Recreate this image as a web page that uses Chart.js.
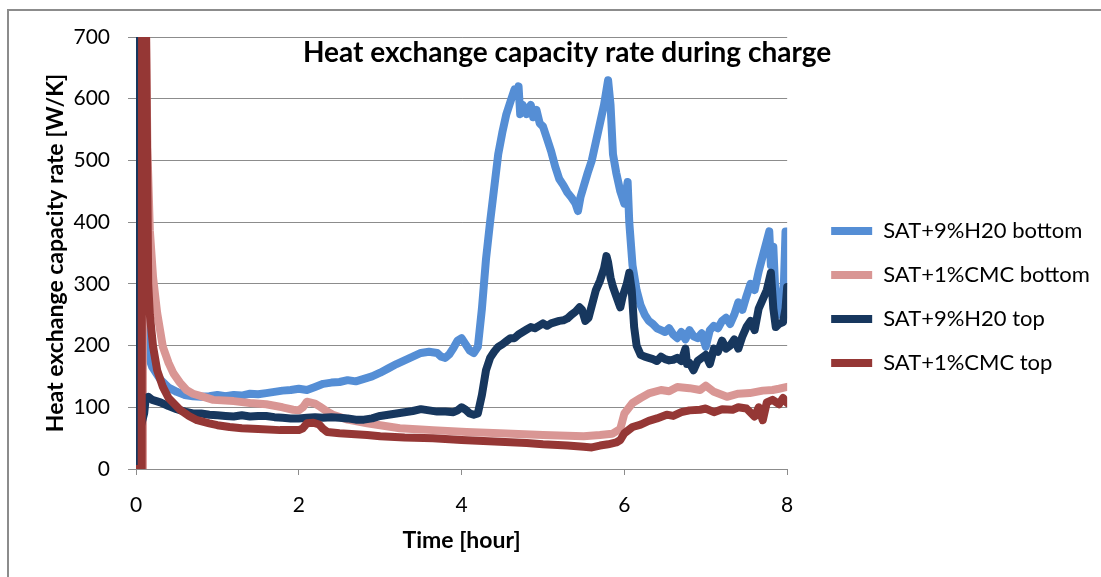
<!DOCTYPE html>
<html>
<head>
<meta charset="utf-8">
<script src="https://cdn.jsdelivr.net/npm/chart.js@4.4.1/dist/chart.umd.min.js"></script>
<style>
  html, body { margin: 0; padding: 0; background: #fff; overflow: hidden; }
  #wrap { position: relative; width: 1101px; height: 577px; }
  #frame { position: absolute; left: 7px; top: 9px; width: 1200px; height: 700px; border: 2px solid #8c8c8c; }
  canvas { position: absolute; left: 0; top: 0; }
</style>
</head>
<body>
<div id="wrap">
  <div id="frame"></div>
  <canvas id="chart" width="1101" height="577"></canvas>
</div>
<script>
const chartTitle = "Heat exchange capacity rate during charge";
const xTitle = "Time [hour]";
const yTitle = "Heat exchange capacity rate [W/K]";
const seriesNames = ["SAT+9%H20 bottom", "SAT+1%CMC bottom", "SAT+9%H20 top", "SAT+1%CMC top"];

// SAT+9%H20 bottom
const h2oBottomT = [0.06, 0.1, 0.13, 0.16, 0.2, 0.25, 0.3, 0.4, 0.5, 0.6, 0.7, 0.8, 0.9, 1.0, 1.1, 1.2, 1.3, 1.4, 1.5, 1.6, 1.7, 1.8, 1.9, 2.0, 2.1, 2.2, 2.3, 2.4, 2.5, 2.6, 2.7, 2.8, 2.9, 3.0, 3.1, 3.2, 3.3, 3.4, 3.5, 3.6, 3.7, 3.75, 3.8, 3.85, 3.9, 3.95, 4.0, 4.05, 4.1, 4.15, 4.2, 4.25, 4.3, 4.35, 4.4, 4.45, 4.5, 4.55, 4.6, 4.65, 4.68, 4.7, 4.72, 4.75, 4.8, 4.85, 4.88, 4.92, 4.96, 5.0, 5.05, 5.1, 5.15, 5.2, 5.25, 5.3, 5.35, 5.4, 5.43, 5.46, 5.5, 5.55, 5.6, 5.65, 5.7, 5.75, 5.8, 5.83, 5.86, 5.9, 5.95, 6.0, 6.04, 6.06, 6.1, 6.15, 6.2, 6.25, 6.3, 6.35, 6.4, 6.45, 6.5, 6.55, 6.6, 6.65, 6.7, 6.75, 6.8, 6.85, 6.9, 6.95, 7.0, 7.05, 7.1, 7.15, 7.2, 7.25, 7.3, 7.35, 7.4, 7.45, 7.5, 7.55, 7.6, 7.65, 7.7, 7.75, 7.78, 7.8, 7.83, 7.85, 7.88, 7.9, 7.93, 7.96, 7.98, 8.0];
const h2oBottomV = [260, 250, 220, 180, 165, 155, 145, 132, 125, 120, 118, 117, 118, 120, 118, 120, 119, 122, 121, 123, 125, 127, 128, 130, 128, 133, 138, 140, 141, 144, 142, 146, 150, 156, 163, 170, 176, 182, 188, 190, 188, 182, 180, 186, 196, 208, 212, 202, 192, 188, 198, 260, 340, 400, 455, 510, 545, 575, 595, 615, 605, 620, 575, 590, 575, 590, 570, 582, 560, 555, 535, 515, 490, 470, 460, 448, 440, 430, 418, 440, 458, 480, 500, 530, 560, 590, 630, 590, 510, 480, 450, 430, 465, 400, 330, 290, 265, 250, 240, 235, 228, 225, 222, 228, 218, 212, 222, 210, 225, 215, 212, 220, 198, 225, 232, 228, 240, 245, 235, 250, 270, 258, 280, 300, 290, 320, 345, 370, 385, 330, 360, 300, 260, 250, 255, 300, 385, 385];

// SAT+1%CMC bottom
const cmcBottomT = [0.08, 0.085, 0.12, 0.14, 0.17, 0.21, 0.26, 0.33, 0.4, 0.46, 0.54, 0.62, 0.7, 0.8, 0.95, 1.2, 1.4, 1.6, 1.8, 1.93, 2.0, 2.05, 2.1, 2.2, 2.26, 2.35, 2.42, 2.6, 2.84, 3.0, 3.24, 3.5, 3.65, 4.06, 4.47, 5.0, 5.5, 5.7, 5.85, 5.95, 6.0, 6.1, 6.2, 6.31, 6.45, 6.55, 6.65, 6.8, 6.93, 7.0, 7.1, 7.26, 7.4, 7.54, 7.7, 7.82, 7.9, 8.0];
const cmcBottomV = [0, 800, 750, 520, 387, 310, 253, 198, 172, 155, 140, 128, 122, 118, 112, 110, 107, 105, 100, 96, 95, 100, 109, 106, 101, 93, 88, 80, 74, 71, 66, 64, 63, 60, 58, 55, 53, 55, 57, 65, 90, 107, 115, 123, 128, 126, 133, 131, 128, 135, 125, 117, 122, 123, 127, 128, 130, 133];

// SAT+9%H20 top
const h2oTopT = [0, 0.01, 0.04, 0.1, 0.12, 0.15, 0.2, 0.3, 0.4, 0.5, 0.6, 0.7, 0.8, 0.9, 1.0, 1.1, 1.2, 1.3, 1.4, 1.5, 1.6, 1.7, 1.8, 1.9, 2.0, 2.1, 2.2, 2.3, 2.4, 2.5, 2.6, 2.7, 2.8, 2.9, 3.0, 3.1, 3.2, 3.3, 3.4, 3.5, 3.6, 3.7, 3.8, 3.9, 3.95, 4.0, 4.05, 4.1, 4.15, 4.2, 4.25, 4.3, 4.35, 4.4, 4.45, 4.5, 4.55, 4.6, 4.65, 4.7, 4.75, 4.8, 4.85, 4.9, 4.95, 5.0, 5.05, 5.1, 5.15, 5.2, 5.25, 5.3, 5.35, 5.4, 5.45, 5.48, 5.52, 5.56, 5.6, 5.65, 5.7, 5.75, 5.78, 5.8, 5.83, 5.86, 5.9, 5.95, 5.98, 6.03, 6.06, 6.09, 6.12, 6.15, 6.2, 6.25, 6.3, 6.35, 6.4, 6.45, 6.5, 6.55, 6.6, 6.65, 6.7, 6.75, 6.77, 6.8, 6.85, 6.9, 6.95, 7.0, 7.05, 7.1, 7.15, 7.2, 7.25, 7.3, 7.35, 7.4, 7.45, 7.5, 7.55, 7.6, 7.65, 7.7, 7.75, 7.8, 7.83, 7.86, 7.9, 7.95, 7.98, 8.0];
const h2oTopV = [0, 800, 60, 90, 115, 117, 112, 108, 102, 97, 93, 90, 90, 88, 87, 86, 85, 87, 85, 86, 86, 84, 83, 82, 82, 83, 84, 83, 84, 83, 82, 80, 80, 82, 86, 88, 90, 92, 94, 97, 95, 93, 93, 92, 95, 100, 96, 90, 88, 90, 120, 160, 180, 190, 198, 202, 207, 212, 212, 218, 222, 226, 230, 228, 232, 236, 232, 236, 238, 240, 241, 244, 250, 255, 262, 258, 240, 245, 265, 290, 305, 325, 345, 335, 310, 295, 280, 262, 280, 300, 318, 290, 230, 200, 185, 182, 180, 178, 175, 182, 178, 176, 177, 180, 175, 195, 170, 172, 160, 175, 180, 185, 170, 195, 190, 208, 195, 200, 210, 195, 215, 230, 240, 225, 260, 275, 290, 318, 260, 230, 235, 238, 260, 295];

// SAT+1%CMC top
const cmcTopT = [0, 0.07, 0.075, 0.12, 0.15, 0.17, 0.21, 0.26, 0.33, 0.4, 0.54, 0.65, 0.75, 0.9, 1.0, 1.15, 1.3, 1.5, 1.77, 2.0, 2.05, 2.1, 2.18, 2.25, 2.3, 2.35, 2.5, 2.84, 3.0, 3.3, 3.65, 4.0, 4.47, 4.8, 5.0, 5.3, 5.5, 5.6, 5.7, 5.8, 5.9, 5.95, 6.0, 6.1, 6.2, 6.3, 6.4, 6.52, 6.6, 6.7, 6.8, 6.93, 7.0, 7.1, 7.2, 7.33, 7.4, 7.5, 7.6, 7.65, 7.7, 7.75, 7.82, 7.9, 7.95, 8.0];
const cmcTopV = [0, 0, 800, 760, 300, 250, 198, 160, 133, 115, 96, 86, 79, 74, 71, 68, 66, 65, 63, 63, 66, 74, 75, 72, 65, 60, 58, 55, 53, 51, 50, 47, 44, 42, 40, 38, 36, 35, 38, 40, 43, 47, 58, 68, 72, 78, 82, 88, 86, 92, 95, 96, 98, 92, 97, 96, 100, 98, 85, 100, 79, 108, 112, 105, 115, 107];

const seriesColors = ["#558ED5", "#D99694", "#17375E", "#953735"];

function toPoints(times, values) {
  return times.map((t, i) => ({ x: t, y: values[i] }));
}

// title sits inside the plot area, right of centre
const titlePlugin = {
  id: "plotTitle",
  afterDraw(chart) {
    const { ctx, chartArea } = chart;
    ctx.save();
    ctx.font = "bold 28px Lato";
    ctx.fillStyle = "#000";
    ctx.textAlign = "center";
    ctx.textBaseline = "middle";
    ctx.fillText(chartTitle, chartArea.left + chartArea.width * 0.662, chartArea.top + 16);
    ctx.restore();
  },
};

// the layout caps side boxes at a quarter of the width; let the legend run to the edge
const legendWidthPlugin = {
  id: "legendWidth",
  afterLayout(chart) {
    const legend = chart.legend;
    if (!legend) return;
    legend.right = chart.width;
    legend.width = legend.right - legend.left;
  },
};

Chart.defaults.font.family = "Lato";
Chart.defaults.color = "#000";

const allT = [h2oBottomT, cmcBottomT, h2oTopT, cmcTopT];
const allV = [h2oBottomV, cmcBottomV, h2oTopV, cmcTopV];

const ctx = document.getElementById("chart").getContext("2d");
new Chart(ctx, {
  type: "line",
  data: {
    datasets: seriesNames.map((name, i) => ({
      label: name,
      data: toPoints(allT[i], allV[i]),
      borderColor: seriesColors[i],
      backgroundColor: seriesColors[i],
      borderWidth: 8,
      borderCapStyle: "round",
      borderJoinStyle: "round",
      pointRadius: 0,
      tension: 0,
      order: 4 - i,
    })),
  },
  options: {
    responsive: false,
    animation: false,
    layout: { padding: { left: 30, top: 37, right: 136, bottom: 20 } },
    scales: {
      x: {
        type: "linear",
        min: 0,
        max: 8,
        ticks: { stepSize: 2, font: { size: 21 }, padding: 18 },
        grid: { drawOnChartArea: false, color: "#8c8c8c", tickLength: 6 },
        border: { color: "#8c8c8c" },
        title: { display: true, text: xTitle, font: { size: 23, weight: "bold" }, padding: { top: 0, bottom: 3 } },
        afterFit: (s) => { s.height = 88; },
      },
      y: {
        min: 0,
        max: 700,
        ticks: { stepSize: 100, font: { size: 21 }, padding: 18 },
        grid: { color: "#8c8c8c", tickLength: 8 },
        border: { color: "#8c8c8c" },
        title: { display: true, text: yTitle, font: { size: 23, weight: "bold" }, padding: { top: 12, bottom: 0 } },
        afterFit: (s) => { s.width = 106; },
      },
      // empty spacer between plot and legend
      y2: {
        position: "right",
        grid: { display: false },
        border: { display: false },
        ticks: { display: false },
        afterFit: (s) => { s.width = 22; },
      },
    },
    plugins: {
      legend: {
        position: "right",
        fullSize: true,
        reverse: true,
        labels: {
          usePointStyle: true,
          pointStyle: "line",
          pointStyleWidth: 41,
          padding: 22,
          font: { size: 22 },
        },
      },
      tooltip: { enabled: false },
    },
  },
  plugins: [titlePlugin, legendWidthPlugin],
});
</script>
</body>
</html>
